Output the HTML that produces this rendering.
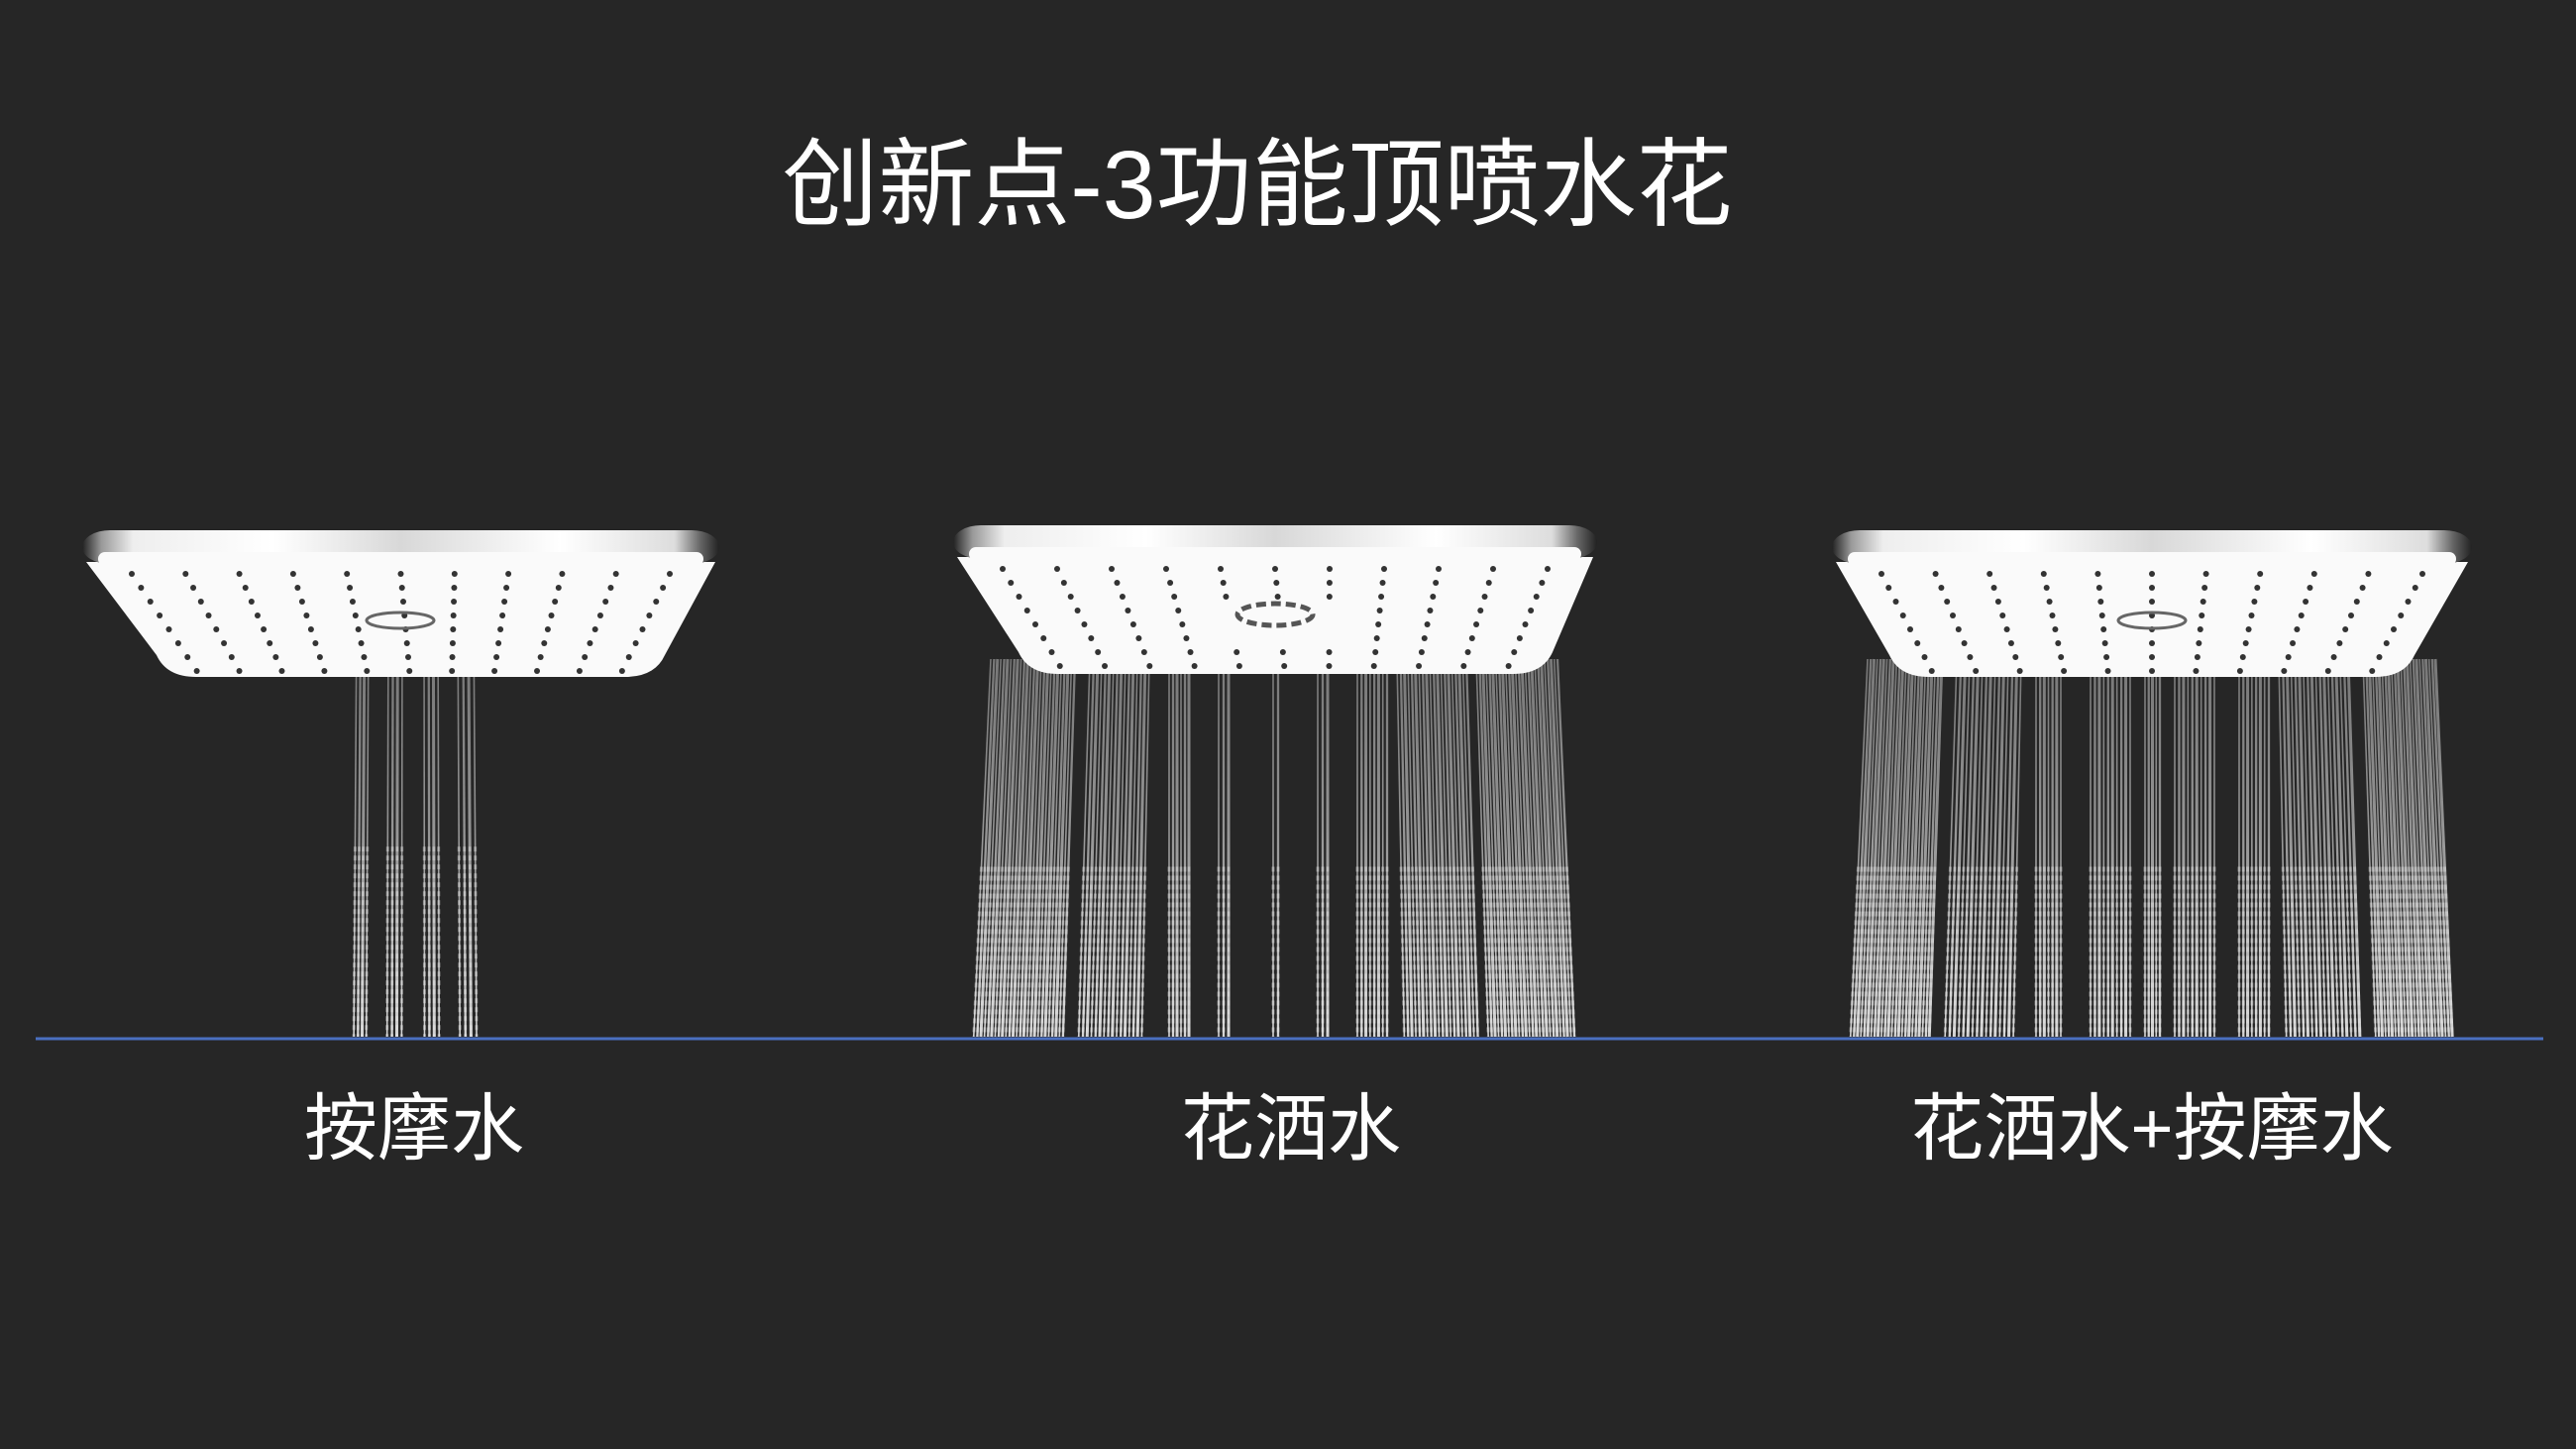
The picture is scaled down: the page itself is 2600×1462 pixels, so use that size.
<!DOCTYPE html>
<html><head><meta charset="utf-8"><style>
html,body{margin:0;padding:0;background:#262626;}
#c{position:relative;width:2600px;height:1462px;background:#262626;overflow:hidden;font-family:"Liberation Sans","Noto Sans CJK SC",sans-serif;color:#fff;}
.t{position:absolute;white-space:nowrap;transform:translateX(-50%);line-height:1;}
</style></head><body><div id="c">
<div class="t" style="left:1269px;top:138px;font-size:97px;">创新点-3功能顶喷水花</div>
<svg id="s" width="2600" height="1462" style="position:absolute;left:0;top:0">
<defs>
<linearGradient id="chrome" x1="0" y1="0" x2="1" y2="0">
<stop offset="0" stop-color="#222"/><stop offset="0.03" stop-color="#999"/><stop offset="0.08" stop-color="#eee"/><stop offset="0.3" stop-color="#fff"/><stop offset="0.5" stop-color="#d8d8d8"/><stop offset="0.75" stop-color="#fff"/><stop offset="0.93" stop-color="#ddd"/><stop offset="0.97" stop-color="#666"/><stop offset="1" stop-color="#222"/>
</linearGradient>
<linearGradient id="wat" gradientUnits="userSpaceOnUse" x1="0" y1="620" x2="0" y2="1048">
<stop offset="0" stop-color="#ccc" stop-opacity="0.45"/><stop offset="0.5" stop-color="#ddd" stop-opacity="0.6"/><stop offset="1" stop-color="#f4f4f4" stop-opacity="0.85"/>
</linearGradient>
</defs>
<g id="w"></g><g id="h"></g>
<line x1="36" y1="1048" x2="2567" y2="1048" stroke="#4a6fc0" stroke-width="3"/>
</svg>
<div class="t" style="left:418px;top:1102px;font-size:74px;">按摩水</div>
<div class="t" style="left:1303px;top:1102px;font-size:74px;">花洒水</div>
<div class="t" style="left:2172px;top:1102px;font-size:74px;">花洒水+按摩水</div>
</div>
<script>
var NS="http://www.w3.org/2000/svg";
function el(t,a,p){var e=document.createElementNS(NS,t);for(var k in a)e.setAttribute(k,a[k]);p.appendChild(e);return e;}
var H=document.getElementById('h'),W=document.getElementById('w');
function head(x0,x1,y0,bx0,bx1,yb,ring){
 var w=x1-x0;
 el('path',{d:'M'+(x0+4)+' '+(y0+32)+' L'+bx0+' '+(yb-22)+' Q'+(bx0+10)+' '+yb+' '+(bx0+40)+' '+yb+' L'+(bx1-40)+' '+yb+' Q'+(bx1-10)+' '+yb+' '+bx1+' '+(yb-22)+' L'+(x1-4)+' '+(y0+32)+' Z',fill:'#fafafa'},H);
 el('rect',{x:x0,y:y0,width:w,height:34,rx:28,fill:'url(#chrome)'},H);
 el('rect',{x:x0+16,y:y0+22,width:w-32,height:14,rx:7,fill:'#fafafa'},H);
 var cx=(x0+x1)/2;
 for(var r=0;r<8;r++){var yy=y0+44+r*14;var f=r/8;var l=x0+30+(bx0-x0)*f+20,rr=x1-30-(x1-bx1)*f-20;
  for(var c=0;c<11;c++){var xx=l+(rr-l)*c/10; if(ring&&Math.abs(xx-cx)<60&&r>2&&r<6)continue; el('circle',{cx:xx,cy:yy,r:3,fill:'#333'},H);}}
 if(ring){el('ellipse',{cx:cx,cy:y0+90,rx:38,ry:11,fill:'none',stroke:'#555','stroke-width':5,'stroke-dasharray':'10 5'},H);}
}
function water(ranges,yt){
 ranges.forEach(function(r){var n=r[2];for(var i=0;i<n;i++){var xa=r[0]+(r[1]-r[0])*i/(n-1||1);var xb=xa+(xa-r[3])*r[4];
  el('line',{x1:xa,y1:yt,x2:xb,y2:1046,stroke:'url(#wat)','stroke-width':1.6+(i%3)*0.7},W);
  el('line',{x1:xa+(xb-xa)*0.55,y1:yt+(1046-yt)*0.55,x2:xb,y2:1046,stroke:'#e8e8e8','stroke-opacity':0.4,'stroke-width':3,'stroke-dasharray':'5 4'},W);}});
}
water([[360,372,4,418,0.05],[392,406,4,418,0.05],[428,442,4,418,0.05],[462,478,4,418,0.05]],620);
var L2=[[1000,1085,26,1287,0.06],[1100,1160,16,1287,0.06],[1180,1200,6,1287,0],[1230,1240,3,1287,0],[1285,1290,2,1287,0],[1330,1340,3,1287,0],[1370,1400,8,1287,0],[1410,1480,20,1287,0.06],[1490,1572,26,1287,0.06]];
water(L2,665);
var L3=[[1885,1960,24,2172,0.06],[1975,2040,16,2172,0.06],[2055,2080,7,2172,0],[2110,2150,10,2172,0],[2165,2180,5,2172,0],[2195,2235,10,2172,0],[2260,2290,8,2172,0],[2300,2370,18,2172,0.06],[2385,2458,24,2172,0.06]];
water(L3,665);
head(83,726,535,158,671,683,false);
head(962,1612,530,1028,1567,680,true);
head(1849,2495,535,1907,2437,683,false);
el('ellipse',{cx:404,cy:626,rx:34,ry:8,fill:'none',stroke:'#666','stroke-width':3},H);
el('ellipse',{cx:2172,cy:626,rx:34,ry:8,fill:'none',stroke:'#666','stroke-width':3},H);
</script>
</body></html>
